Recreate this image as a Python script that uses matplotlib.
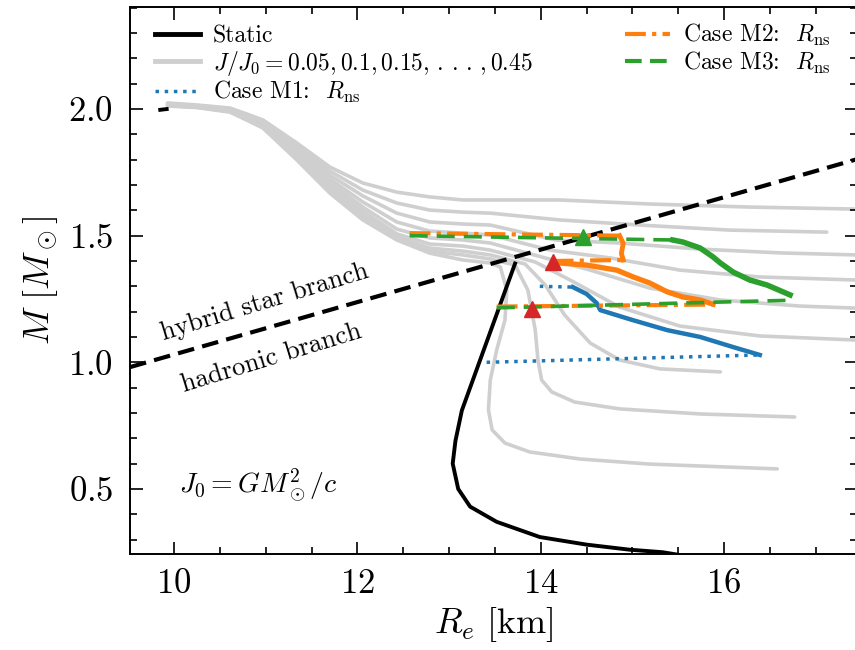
import numpy as np
import matplotlib
matplotlib.use("Agg")
import matplotlib.pyplot as plt
from matplotlib.ticker import MultipleLocator
from matplotlib.lines import Line2D

plt.rcParams['font.family'] = 'serif'
plt.rcParams['font.serif'] = ['cmr10']
plt.rcParams['mathtext.fontset'] = 'cm'
plt.rcParams['axes.formatter.use_mathtext'] = True

# ---------------- data ----------------
J_values = [0.05, 0.10, 0.15, 0.20, 0.25, 0.30, 0.35, 0.40, 0.45]

# constant-J sequences (R_e [km], M [Msun])
R_bundle = [9.93, 10.25, 10.61, 10.79, 10.97, 11.34, 11.70, 12.06, 12.43, 12.79, 13.15, 13.45]
M_bundle = [
    [2.012, 2.006, 1.988, 1.957, 1.925, 1.799, 1.668, 1.562, 1.483, 1.431, 1.404, 1.392],
    [2.014, 2.007, 1.990, 1.960, 1.929, 1.811, 1.680, 1.570, 1.487, 1.439, 1.424, 1.408],
    [2.015, 2.008, 1.992, 1.963, 1.933, 1.818, 1.688, 1.582, 1.495, 1.451, 1.439, 1.424],
    [2.017, 2.009, 1.994, 1.966, 1.937, 1.826, 1.700, 1.597, 1.507, 1.467, 1.459, 1.443],
    [2.018, 2.010, 1.996, 1.969, 1.941, 1.834, 1.712, 1.613, 1.526, 1.491, 1.483, 1.471],
    [2.020, 2.012, 1.998, 1.972, 1.945, 1.842, 1.724, 1.633, 1.554, 1.518, 1.510, 1.503],
    [2.021, 2.013, 2.000, 1.975, 1.949, 1.850, 1.739, 1.657, 1.589, 1.554, 1.546, 1.542],
    [2.022, 2.014, 2.002, 1.978, 1.953, 1.858, 1.755, 1.680, 1.629, 1.601, 1.593, 1.589],
    [2.024, 2.016, 2.004, 1.981, 1.957, 1.866, 1.771, 1.708, 1.672, 1.653, 1.641, 1.641],
]
R_tail = [
    [13.56, 13.63, 13.61, 13.52, 13.45, 13.43, 13.47, 13.61, 13.88, 14.43, 15.19, 16.58],
    [13.72, 13.86, 13.94, 13.97, 14.01, 14.12, 14.37, 14.86, 15.74, 16.77],
    [13.83, 14.05, 14.26, 14.54, 14.86, 15.30, 15.96],
    [13.94, 14.32, 14.86, 15.52, 16.39, 17.43],
    [14.05, 14.54, 15.19, 15.96, 16.83, 17.43],
    [14.10, 14.76, 15.52, 16.39, 17.43],
    [14.16, 14.86, 15.74, 16.61, 17.43],
    [14.21, 15.08, 16.06, 17.12],
    [14.21, 15.19, 16.28, 17.43],
]
M_tail = [
    [1.376, 1.285, 1.167, 1.049, 0.930, 0.812, 0.733, 0.681, 0.646, 0.618, 0.598, 0.579],
    [1.384, 1.285, 1.128, 1.009, 0.930, 0.883, 0.843, 0.816, 0.796, 0.784],
    [1.388, 1.305, 1.187, 1.076, 1.009, 0.974, 0.962],
    [1.396, 1.325, 1.218, 1.143, 1.104, 1.088],
    [1.412, 1.364, 1.293, 1.246, 1.222, 1.214],
    [1.443, 1.412, 1.364, 1.337, 1.325],
    [1.483, 1.471, 1.447, 1.432, 1.424],
    [1.562, 1.542, 1.522, 1.514],
    [1.641, 1.625, 1.613, 1.605],
]

# static sequence
static_R = [13.72, 13.26, 13.14, 13.07, 13.04, 13.10, 13.23, 13.52, 13.99, 14.50, 14.97, 15.33, 15.50]
static_M = [1.39, 0.93, 0.81, 0.69, 0.60, 0.50, 0.43, 0.37, 0.31, 0.28, 0.26, 0.25, 0.24]
static_hyb_R = [9.85, 9.92]
static_hyb_M = [1.997, 2.000]

# phase-transition boundary
bound_R = [9.52, 17.45]
bound_M = [0.981, 1.802]

# Case M1
m1_dot_hi_R = [13.99, 14.35]
m1_dot_hi_M = [1.300, 1.297]
m1_sol_R = [14.35, 14.50, 14.61, 14.65, 15.00, 15.38, 15.74, 16.10, 16.39]
m1_sol_M = [1.297, 1.27, 1.234, 1.206, 1.167, 1.127, 1.100, 1.060, 1.029]
m1_dot_lo_R = [13.41, 16.39]
m1_dot_lo_M = [1.000, 1.029]

# Case M2
m2_hi_R = [12.57, 14.88]
m2_hi_M = [1.510, 1.500]
m2_drop_R = [14.86, 14.90, 14.88, 14.90]
m2_drop_M = [1.500, 1.470, 1.430, 1.404]
m2_mid_R = [14.13, 14.90]
m2_mid_M = [1.400, 1.404]
m2_sol_R = [14.21, 14.50, 14.83, 15.01, 15.19, 15.38, 15.55, 15.74, 15.88]
m2_sol_M = [1.392, 1.384, 1.364, 1.337, 1.313, 1.278, 1.258, 1.246, 1.230]
m2_lo_R = [13.52, 15.88]
m2_lo_M = [1.220, 1.228]

# Case M3
m3_hi_R = [12.57, 15.44]
m3_hi_M = [1.500, 1.483]
m3_sol_R = [15.44, 15.55, 15.74, 15.88, 15.96, 16.10, 16.28, 16.47, 16.72]
m3_sol_M = [1.483, 1.475, 1.451, 1.416, 1.392, 1.356, 1.325, 1.305, 1.266]
m3_lo_R = [13.52, 16.72]
m3_lo_M = [1.215, 1.245]

tri_red_R = [14.13, 13.91]
tri_red_M = [1.396, 1.210]
tri_green_R = [14.46]
tri_green_M = [1.495]

# ---------------- plot ----------------
fig = plt.figure(figsize=(8.55, 6.5), dpi=100)
ax = fig.add_axes([130 / 855, 96 / 650, 727 / 855, 547 / 650])

gray = '#cfcfcf'
for k in range(len(J_values)):
    R = list(R_bundle) + R_tail[k]
    M = list(M_bundle[k]) + M_tail[k]
    ax.plot(R, M, color=gray, lw=2.6, solid_capstyle='round',
            solid_joinstyle='round', zorder=1)

ax.plot(static_R, static_M, color='black', lw=2.8, zorder=3)
ax.plot(static_hyb_R, static_hyb_M, color='black', lw=2.8, zorder=3)

bl, = ax.plot(bound_R, bound_M, color='black', lw=3.0, zorder=4)
bl.set_dashes([4, 2])

blue, orange, green, red = '#1f77b4', '#ff7f0e', '#2ca02c', '#d62728'

ax.plot(m1_dot_hi_R, m1_dot_hi_M, color=blue, lw=2.5, ls=':', zorder=5)
ax.plot(m1_sol_R, m1_sol_M, color=blue, lw=3.2, zorder=5)
ax.plot(m1_dot_lo_R, m1_dot_lo_M, color=blue, lw=2.5, ls=':', zorder=5)

dd = (0, (5, 1.5, 1, 1.5))
ax.plot(m2_hi_R, m2_hi_M, color=orange, lw=3.0, ls=dd, zorder=6)
ax.plot(m2_drop_R, m2_drop_M, color=orange, lw=3.5, zorder=6)
ax.plot(m2_mid_R, m2_mid_M, color=orange, lw=3.0, ls=dd, zorder=6)
ax.plot(m2_sol_R, m2_sol_M, color=orange, lw=3.8, zorder=6)
ax.plot(m2_lo_R, m2_lo_M, color=orange, lw=3.0, ls=dd, zorder=6)

ax.plot(m3_hi_R, m3_hi_M, color=green, lw=2.6, ls=(0, (5, 2.5)), zorder=7)
ax.plot(m3_sol_R, m3_sol_M, color=green, lw=4.0, zorder=7)
ax.plot(m3_lo_R, m3_lo_M, color=green, lw=2.6, ls=(0, (5, 2.5)), zorder=7)

ax.plot(tri_red_R, tri_red_M, ls='none', marker='^', ms=11, color=red, zorder=9)
ax.plot(tri_green_R, tri_green_M, ls='none', marker='^', ms=11, color=green, zorder=9)

ax.set_xlim(9.52, 17.45)
ax.set_ylim(0.243, 2.403)
ax.xaxis.set_major_locator(MultipleLocator(2))
ax.xaxis.set_minor_locator(MultipleLocator(0.5))
ax.yaxis.set_major_locator(MultipleLocator(0.5))
ax.yaxis.set_minor_locator(MultipleLocator(0.1))
ax.tick_params(which='both', direction='in', top=True, right=True, width=1.2)
ax.tick_params(which='major', length=9, labelsize=25)
ax.tick_params(axis='x', which='major', pad=10)
ax.tick_params(axis='y', which='major', pad=12)
ax.tick_params(which='minor', length=5)
for s in ax.spines.values():
    s.set_linewidth(1.4)

ax.set_xlabel(r'$R_e\ [\mathrm{km}]$', fontsize=26, labelpad=4)
ax.set_ylabel(r'$M\ [M_\odot]$', fontsize=26, labelpad=6)

ax.text(10.99, 1.238, 'hybrid star branch', rotation=17, fontsize=19,
        ha='center', va='center', rotation_mode='anchor')
ax.text(11.06, 1.017, 'hadronic branch', rotation=17, fontsize=19,
        ha='center', va='center', rotation_mode='anchor')
ax.text(10.92, 0.516, r'$J_0 = GM_\odot^2/c$', fontsize=20, ha='center', va='center')

handles = [
    Line2D([], [], color='black', lw=3.5),
    Line2D([], [], color=gray, lw=3.5),
    Line2D([], [], color=blue, lw=2.5, ls=':'),
    Line2D([], [], color=orange, lw=3.0, ls=dd),
    Line2D([], [], color=green, lw=3.0, ls=(0, (4, 2))),
]
labels = [
    'Static',
    r'$J/J_0 = 0.05, 0.1, 0.15,\,.\,.\,.\,, 0.45$',
    r'Case M1:  $R_{\rm ns}$',
    r'Case M2:  $R_{\rm ns}$',
    r'Case M3:  $R_{\rm ns}$',
]
ax.legend(handles, labels, ncol=2, loc='upper left', bbox_to_anchor=(0.0215, 0.989),
          frameon=False, fontsize=17, handlelength=1.9, handletextpad=0.55,
          columnspacing=3.9, labelspacing=0.05, borderaxespad=0.0)

fig.savefig('out.png', dpi=100)
